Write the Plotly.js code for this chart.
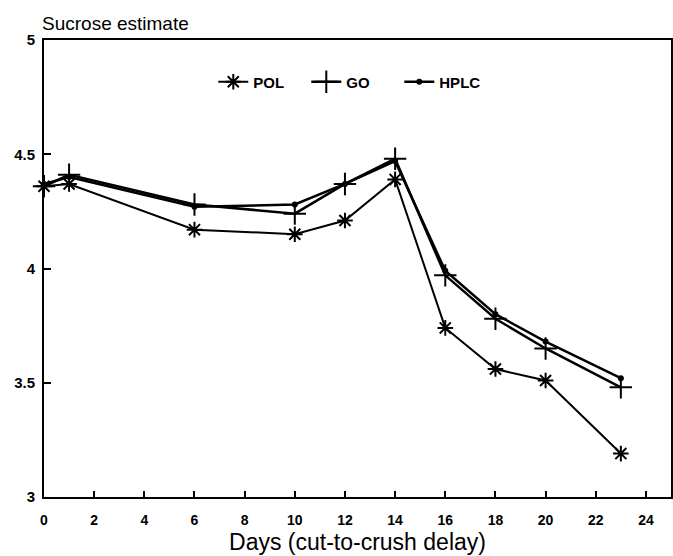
<!DOCTYPE html>
<html>
<head>
<meta charset="utf-8">
<script src="https://cdn.plot.ly/plotly-3.0.1.min.js"></script>
<style>html,body{margin:0;padding:0;background:#fff;}#chart{width:673px;height:556px;}</style>
</head>
<body>
<div id="chart"></div>
<script>
const days = [0, 1, 6, 10, 12, 14, 16, 18, 20, 23];
const pol  = [4.36, 4.37, 4.17, 4.15, 4.21, 4.39, 3.74, 3.56, 3.51, 3.19];
const go   = [4.36, 4.41, 4.28, 4.24, 4.37, 4.48, 3.97, 3.78, 3.65, 3.48];
const hplc = [4.37, 4.40, 4.27, 4.28, 4.37, 4.47, 3.99, 3.80, 3.68, 3.52];
const xTicks = [0, 2, 4, 6, 8, 10, 12, 14, 16, 18, 20, 22, 24];
const yTicks = [3, 3.5, 4, 4.5, 5];
const yTickText = ['3', '3.5', '4', '4.5', '5'];

const traces = [
  {x: days, y: pol, name: 'POL', mode: 'lines+markers', cliponaxis: false,
   line: {color: '#000', width: 2},
   marker: {symbol: 'asterisk-open', size: 13, color: '#000', line: {color: '#000', width: 2}}},
  {x: days, y: go, name: 'GO', mode: 'lines+markers', cliponaxis: false,
   line: {color: '#000', width: 2.5},
   marker: {symbol: 'cross-thin-open', size: 16, color: '#000', line: {color: '#000', width: 2}}},
  {x: days, y: hplc, name: 'HPLC', mode: 'lines+markers', cliponaxis: false,
   line: {color: '#000', width: 2.5},
   marker: {symbol: 'circle', size: 6, color: '#000'}}
];

const layout = {
  width: 673, height: 556,
  margin: {l: 44, r: 2, t: 40, b: 59},
  paper_bgcolor: '#fff', plot_bgcolor: '#fff',
  font: {family: 'Liberation Sans, Arial, sans-serif', color: '#000'},
  title: {text: 'Sucrose estimate', x: 42/673, xanchor: 'left', xref: 'container',
          y: 1 - 23/556, yanchor: 'middle', yref: 'container',
          font: {size: 19, color: '#000', family: 'Liberation Sans, Arial, sans-serif'}},
  showlegend: true,
  legend: {orientation: 'h', x: 0.27, xanchor: 'left', y: 0.908, yanchor: 'middle',
           bgcolor: 'rgba(0,0,0,0)', font: {size: 15, family: 'Liberation Sans, Arial, sans-serif', weight: 'bold'},
           itemwidth: 30, entrywidth: 48, entrywidthmode: 'pixels'},
  xaxis: {range: [0, 25], tickvals: xTicks, ticktext: xTicks.map(String),
          ticks: 'inside', ticklen: 6, tickwidth: 2, tickcolor: '#000',
          showline: true, linecolor: '#000', linewidth: 2, mirror: true,
          showgrid: false, zeroline: false, ticklabelstandoff: 9,
          tickfont: {size: 14, weight: 'bold', family: 'Liberation Sans, Arial, sans-serif'},
          title: {text: 'Days (cut-to-crush delay)', standoff: 7,
                  font: {size: 23, family: 'Liberation Sans, Arial, sans-serif'}}},
  yaxis: {range: [3, 5], tickvals: yTicks, ticktext: yTickText,
          ticks: 'inside', ticklen: 7, tickwidth: 2, tickcolor: '#000',
          showline: true, linecolor: '#000', linewidth: 2, mirror: true,
          showgrid: false, zeroline: false, ticklabelstandoff: 4,
          tickfont: {size: 15, weight: 'bold', family: 'Liberation Sans, Arial, sans-serif'}}
};

Plotly.newPlot('chart', traces, layout, {displayModeBar: false, staticPlot: true});
</script>
</body>
</html>
